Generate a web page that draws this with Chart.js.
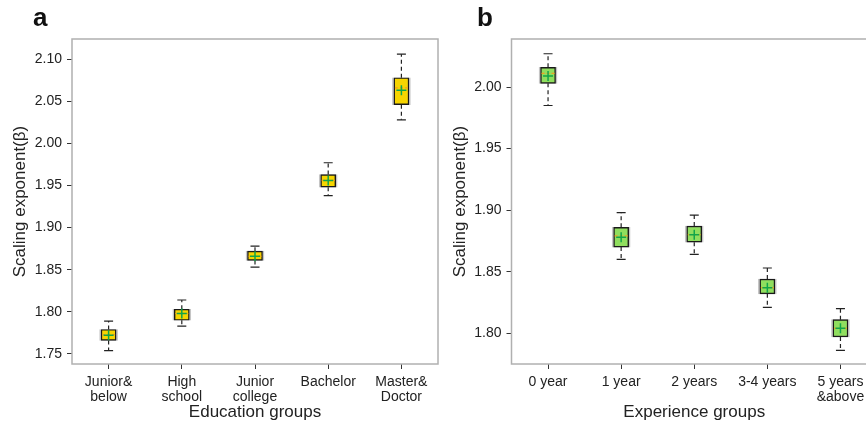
<!DOCTYPE html>
<html>
<head>
<meta charset="utf-8">
<script src="https://cdn.jsdelivr.net/npm/chart.js@4"></script>
<style>
  body { margin: 0; width: 866px; height: 427px; overflow: hidden; background: #fff; position: relative; }
  canvas { position: absolute; top: 0; }
  #chartA { left: 0; }
  #chartB { left: 445px; }
</style>
</head>
<body>
<canvas id="chartA" width="445" height="427"></canvas>
<canvas id="chartB" width="445" height="427"></canvas>
<script>
// Panel a: education groups
const eduLabels = [['Junior&', 'below'], ['High', 'school'], ['Junior', 'college'], 'Bachelor', ['Master&', 'Doctor']];
const eduLow = [1.754, 1.783, 1.853, 1.938, 2.028];
const eduQ1 = [1.766, 1.790, 1.861, 1.948, 2.046];
const eduMedian = [1.773, 1.798, 1.866, 1.956, 2.066];
const eduQ3 = [1.779, 1.803, 1.872, 1.963, 2.078];
const eduHigh = [1.789, 1.814, 1.878, 1.977, 2.106];
const eduMean = [1.772, 1.798, 1.866, 1.956, 2.063];
const eduTicks = [1.75, 1.80, 1.85, 1.90, 1.95, 2.00, 2.05, 2.10];

// Panel b: experience groups
const expLabels = ['0 year', '1 year', '2 years', '3-4 years', ['5 years', '&above']];
const expLow = [1.985, 1.860, 1.864, 1.821, 1.786];
const expQ1 = [2.003, 1.870, 1.874, 1.832, 1.797];
const expMedian = [2.011, 1.879, 1.880, 1.837, 1.804];
const expQ3 = [2.016, 1.886, 1.887, 1.844, 1.811];
const expHigh = [2.027, 1.898, 1.896, 1.853, 1.820];
const expMean = [2.009, 1.878, 1.880, 1.837, 1.804];
const expTicks = [1.80, 1.85, 1.90, 1.95, 2.00];

const FONT = '"Liberation Sans", Arial, sans-serif';

const makeChart = (id, cfg) => {
  const s = cfg.stats;

  // whiskers, caps and median drawn right after the boxes
  const boxExtras = {
    id: 'boxExtras',
    afterDatasetDraw(chart, args) {
      if (args.index !== 1) return;
      const { ctx, scales: { x, y } } = chart;
      ctx.save();
      s.q1.forEach((q1, i) => {
        const cx = x.getPixelForValue(i);
        ctx.strokeStyle = '#222';
        ctx.lineWidth = 1.2;
        ctx.setLineDash([4, 3]);
        ctx.beginPath();
        ctx.moveTo(cx, y.getPixelForValue(s.q3[i]));
        ctx.lineTo(cx, y.getPixelForValue(s.high[i]));
        ctx.moveTo(cx, y.getPixelForValue(q1));
        ctx.lineTo(cx, y.getPixelForValue(s.low[i]));
        ctx.stroke();
        ctx.setLineDash([]);
        ctx.beginPath();
        [s.high[i], s.low[i]].forEach(v => {
          const py = y.getPixelForValue(v);
          ctx.moveTo(cx - 4.5, py);
          ctx.lineTo(cx + 4.5, py);
        });
        ctx.stroke();
        const my = y.getPixelForValue(s.median[i]);
        ctx.strokeStyle = '#f0a020';
        ctx.setLineDash([3, 2]);
        ctx.beginPath();
        ctx.moveTo(cx - 6.5, my);
        ctx.lineTo(cx + 6.5, my);
        ctx.stroke();
      });
      ctx.restore();
    },
    afterDraw(chart) {
      const { ctx, chartArea: a } = chart;
      ctx.save();
      ctx.strokeStyle = '#b0b0b0';
      ctx.lineWidth = 1.5;
      ctx.strokeRect(a.left, a.top, a.right - a.left, a.bottom - a.top);
      ctx.fillStyle = '#111';
      ctx.font = 'bold 26px ' + FONT;
      ctx.textBaseline = 'alphabetic';
      ctx.fillText(cfg.letter, cfg.letterX, 26);
      ctx.restore();
    }
  };

  new Chart(document.getElementById(id), {
    data: {
      labels: cfg.labels,
      datasets: [
        {
          type: 'line',
          data: s.mean,
          showLine: false,
          pointStyle: 'cross',
          pointRadius: 5,
          pointBorderWidth: 1.5,
          borderColor: '#12a54a',
          order: 0
        },
        {
          type: 'bar',
          data: s.q1.map((q, i) => [q, s.q3[i]]),
          backgroundColor: cfg.fill,
          borderColor: '#1a1a1a',
          borderWidth: 1.4,
          borderSkipped: false,
          barThickness: 15,
          grouped: false,
          order: 1
        },
        {
          type: 'bar',
          data: s.q1.map((q, i) => [q, s.q3[i]]),
          backgroundColor: 'rgba(0,0,0,0)',
          borderColor: 'rgba(150,150,150,0.55)',
          borderWidth: 1.5,
          borderSkipped: false,
          barThickness: 18,
          grouped: false,
          order: 2
        }
      ]
    },
    options: {
      responsive: false,
      animation: false,
      events: [],
      layout: { padding: { top: 39, right: cfg.rightPad, left: 0, bottom: 0 } },
      plugins: { legend: { display: false }, tooltip: { enabled: false } },
      scales: {
        x: {
          type: 'category',
          offset: true,
          afterFit: scale => { scale.height = 63; },
          grid: { offset: false, drawOnChartArea: false, tickLength: 5, tickColor: '#333', tickWidth: 1 },
          border: { display: false },
          ticks: { autoSkip: false, maxRotation: 0, padding: 5, color: '#222', font: { family: FONT, size: 14, lineHeight: 1.12 } },
          title: { display: true, text: cfg.xTitle, color: '#222', font: { family: FONT, size: 17 }, padding: { top: 0, bottom: 4 } }
        },
        y: {
          min: cfg.yMin,
          max: cfg.yMax,
          afterFit: scale => { scale.width = cfg.yWidth; },
          afterBuildTicks: scale => { scale.ticks = cfg.yTicks.map(v => ({ value: v })); },
          grid: { drawOnChartArea: false, tickLength: 5, tickColor: '#333', tickWidth: 1 },
          border: { display: false },
          ticks: { padding: 5, color: '#222', font: { family: FONT, size: 14 }, callback: v => v.toFixed(2) },
          title: { display: true, text: 'Scaling exponent(β)', color: '#222', font: { family: FONT, size: 17 }, padding: { top: cfg.yTitlePad, bottom: 0 } }
        }
      }
    },
    plugins: [boxExtras]
  });
};

makeChart('chartA', {
  labels: eduLabels,
  stats: { low: eduLow, q1: eduQ1, median: eduMedian, q3: eduQ3, high: eduHigh, mean: eduMean },
  fill: '#f7d500',
  yMin: 1.738, yMax: 2.124, yTicks: eduTicks,
  yWidth: 72, yTitlePad: 10, rightPad: 7,
  xTitle: 'Education groups', letter: 'a', letterX: 33
});

makeChart('chartB', {
  labels: expLabels,
  stats: { low: expLow, q1: expQ1, median: expMedian, q3: expQ3, high: expHigh, mean: expMean },
  fill: '#90de5e',
  yMin: 1.775, yMax: 2.039, yTicks: expTicks,
  yWidth: 66.5, yTitlePad: 5, rightPad: 13,
  xTitle: 'Experience groups', letter: 'b', letterX: 32
});
</script>
</body>
</html>
